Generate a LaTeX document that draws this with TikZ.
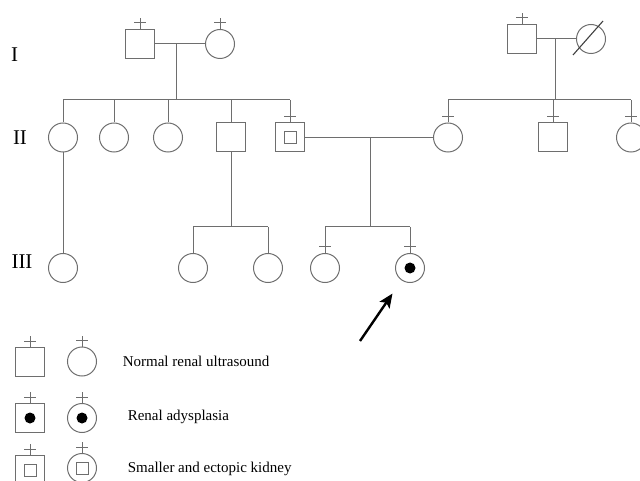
\documentclass[tikz,border=0pt]{standalone}
\usepackage{fontspec}
\setmainfont{Liberation Serif}
\usetikzlibrary{arrows.meta}

\definecolor{linegray}{HTML}{6E6E6E}

\tikzset{
    person/.style={draw=linegray, line width=1pt, minimum size=29pt, inner sep=0pt},
    male/.style={person, rectangle},
    female/.style={person, circle},
    adysplasia/.style={path picture={\fill [black] (path picture bounding box.center) circle (5.5);}},
    smaller/.style={path picture={\draw [linegray, line width=1pt] (path picture bounding box.center) +(-6, -6) rectangle +(6, 6);}},
    generation/.style={font=\fontsize{21}{24}\selectfont},
    keytext/.style={anchor=west, font=\fontsize{15}{18}\selectfont},
    proband/.style={-{Stealth[length=14pt, width=12pt, inset=3pt]}, line width=2.4pt, black, shorten >=16pt},
}

\begin{document}
\begin{tikzpicture}[x=1pt, y=-1pt, line width=1pt]
    \useasboundingbox (0, 0) rectangle (640, 481);
    \clip (0, 0) rectangle (640, 481);

    \node (gen-i) [generation, at={(14.5, 55)}] {I};
    \node (gen-ii) [generation, at={(20, 138)}] {II};
    \node (gen-iii) [generation, at={(22, 262)}] {III};

    \node (i1) [male, at={(140, 44)}] {};
    \node (i2) [female, at={(220, 44)}] {};
    \node (i3) [male, at={(522, 39)}] {};
    \node (i4) [female, at={(591, 39)}] {};

    \node (ii1) [female, at={(63, 137.5)}] {};
    \node (ii2) [female, at={(114, 137.5)}] {};
    \node (ii3) [female, at={(168, 137.5)}] {};
    \node (ii4) [male, at={(231, 137.5)}] {};
    \node (ii5) [male, smaller, at={(290, 137.5)}] {};
    \node (ii6) [female, at={(448, 137.5)}] {};
    \node (ii7) [male, at={(553, 137.5)}] {};
    \node (ii8) [female, at={(631, 137.5)}] {};

    \node (iii1) [female, at={(63, 268)}] {};
    \node (iii2) [female, at={(193, 268)}] {};
    \node (iii3) [female, at={(268, 268)}] {};
    \node (iii4) [female, at={(325, 268)}] {};
    \node (iii5) [female, adysplasia, at={(410, 268)}] {};

    \coordinate (i-mate) at (176, 44);
    \coordinate (ii-sib) at (176, 100);
    \coordinate (i-mate-r) at (555, 39);
    \coordinate (ii-sib-r) at (555, 100);
    \coordinate (ii-mate) at (370, 137.5);
    \coordinate (iii-sib) at (370, 227);
    \coordinate (iii-sib-l) at (231, 227);

    \draw [linegray] (i1) -- (i2);
    \draw [linegray] (i3) -- (i4);
    \draw [linegray] (ii5) -- (ii6);
    \draw [linegray] (i-mate) -- (ii-sib);
    \draw [linegray] (i-mate-r) -- (ii-sib-r);
    \draw [linegray] (ii-mate) -- (iii-sib);
    \draw [linegray] (ii4) -- (iii-sib-l);
    \draw [linegray] (ii1) -- (iii1);

    \draw [linegray] (ii-sib -| ii1) -- (ii-sib -| ii5);
    \draw [linegray] (ii-sib-r -| ii6) -- (ii-sib-r -| ii8);
    \draw [linegray] (iii-sib-l -| iii2) -- (iii-sib-l -| iii3);
    \draw [linegray] (iii-sib -| iii4) -- (iii-sib -| iii5);
    \foreach \n in {ii1, ii2, ii3, ii4, ii5}
        \draw [linegray] (ii-sib -| \n) -- (\n);
    \foreach \n in {ii6, ii7, ii8}
        \draw [linegray] (ii-sib-r -| \n) -- (\n);
    \foreach \n in {iii2, iii3}
        \draw [linegray] (iii-sib-l -| \n) -- (\n);
    \foreach \n in {iii4, iii5}
        \draw [linegray] (iii-sib -| \n) -- (\n);

    \draw [black!75, line width=1.1pt] (i4.center) +(-18, 16) -- +(12, -18);

    \coordinate (arrow-tail) at (360, 341);
    \draw [proband] (arrow-tail) -- (iii5);

    \node (key-m1) [male, at={(30, 362)}] {};
    \node (key-f1) [female, at={(82, 361.5)}] {};
    \node (key-m2) [male, adysplasia, at={(30, 418)}] {};
    \node (key-f2) [female, adysplasia, at={(82, 418)}] {};
    \node (key-m3) [male, smaller, at={(30, 470)}] {};
    \node (key-f3) [female, smaller, at={(82, 468)}] {};
    \node (key-normal) [keytext, at={(119, 361)}] {Normal renal ultrasound};
    \node (key-adys) [keytext, at={(124, 417)}] {Renal adysplasia};
    \node (key-small) [keytext, at={(124, 469)}] {Smaller and ectopic kidney};

    \foreach \n in {i1, i2, i3, ii5, ii6, ii7, ii8, iii4, iii5, key-m1, key-f1, key-m2, key-f2, key-m3, key-f3}
        \draw [linegray] (\n.north) -- +(0, -11) +(-6, -6) -- +(6, -6);
\end{tikzpicture}
\end{document}
